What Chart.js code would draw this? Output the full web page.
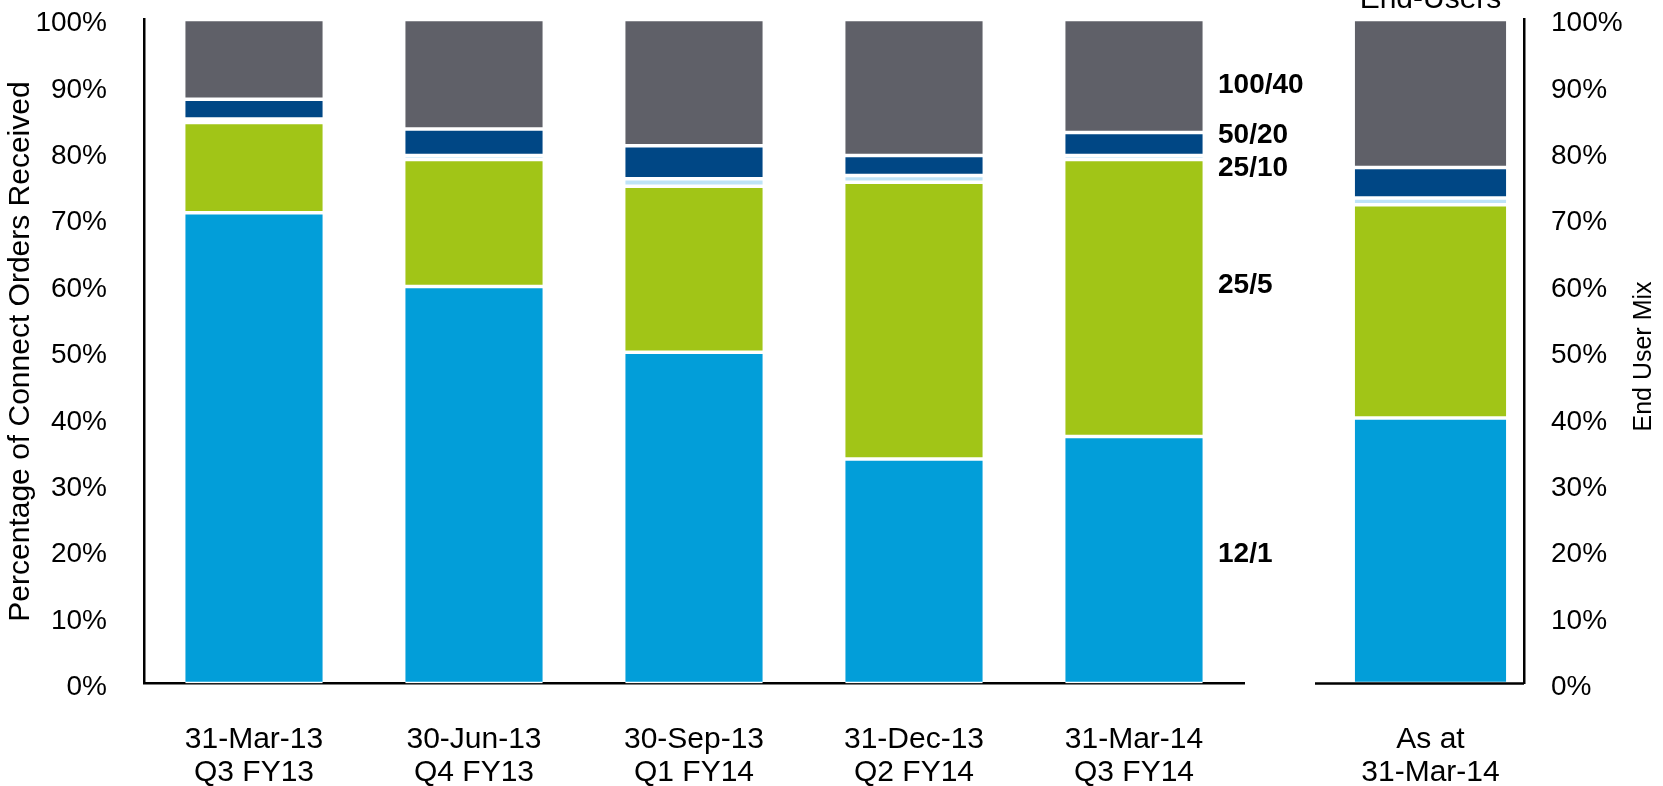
<!DOCTYPE html>
<html>
<head>
<meta charset="utf-8">
<script src="https://cdn.jsdelivr.net/npm/chart.js@4.4.1/dist/chart.umd.min.js"></script>
<style>
  html, body { margin: 0; padding: 0; background: #fff; }
  body { width: 1663px; height: 786px; position: relative; overflow: hidden; }
  #ordersWrap { position: absolute; left: 0; top: 0; width: 1310px; height: 786px; }
  #mixWrap { position: absolute; left: 1300px; top: 0; width: 363px; height: 786px; }
</style>
</head>
<body>
<div id="ordersWrap"><canvas id="ordersChart"></canvas></div>
<div id="mixWrap"><canvas id="mixChart"></canvas></div>
<script>
// ── Data ─────────────────────────────────────────────────────
const periods = [
  ['31-Mar-13', 'Q3 FY13'],
  ['30-Jun-13', 'Q4 FY13'],
  ['30-Sep-13', 'Q1 FY14'],
  ['31-Dec-13', 'Q2 FY14'],
  ['31-Mar-14', 'Q3 FY14'],
];
const orders12_1   = [70.9, 59.8, 49.9, 33.8, 37.2];
const orders25_5   = [13.6, 19.1, 25.0, 41.7, 41.7];
const orders25_10  = [0.5, 0.6, 1.1, 1.0, 0.6];
const orders50_20  = [3.0, 4.0, 5.0, 3.0, 3.5];
const orders100_40 = [12.0, 16.5, 19.0, 20.5, 17.0];

const mixLabels  = [['As at', '31-Mar-14']];
const mix12_1    = [40.0];
const mix25_5    = [32.1];
const mix25_10   = [1.0];
const mix50_20   = [4.6];
const mix100_40  = [22.3];

const tierNames   = ['12/1', '25/5', '25/10', '50/20', '100/40'];
const tierColors  = ['#029ed9', '#a1c517', '#bee3f8', '#004785', '#5f6068'];
const tierLabelAt = [19.5, 59.9, 77.6, 82.6, 90.1];   // y value (%) of each side label

const FONT = '"Liberation Sans", Arial, Helvetica, sans-serif';

function makeDatasets(series) {
  return series.map((data, i) => ({
    label: tierNames[i],
    data,
    backgroundColor: tierColors[i],
    borderColor: '#ffffff',
    borderWidth: { top: 1.75, bottom: 1.75, left: 0, right: 0 },
    borderSkipped: false,
  }));
}

const pctTicks = {
  color: '#000',
  font: { family: FONT, size: 28 },
  stepSize: 10,
  labelOffset: 4,
  callback: v => v + '%',
};

// keep tick label overhang from pushing the plot area down
function fixWidth(w) {
  return s => { s.width = w; s.paddingTop = 0; s.paddingBottom = 0; };
}

// ── Side labels for each tier ─────────────────────────────────
const tierLabelsPlugin = {
  id: 'tierLabels',
  afterDraw(chart) {
    const { ctx, chartArea, scales } = chart;
    ctx.save();
    ctx.fillStyle = '#000';
    ctx.font = 'bold 28px ' + FONT;
    ctx.textAlign = 'left';
    ctx.textBaseline = 'middle';
    tierNames.forEach((name, i) => {
      ctx.fillText(name, chartArea.right - 26, scales.y.getPixelForValue(tierLabelAt[i]));
    });
    ctx.restore();
  },
};

// ── Right panel extras: baseline, header, axis title ──────────
const mixDecorPlugin = {
  id: 'mixDecor',
  afterDraw(chart) {
    const { ctx, chartArea } = chart;
    ctx.save();
    ctx.strokeStyle = '#000';
    ctx.lineWidth = 2.5;
    ctx.beginPath();
    ctx.moveTo(chartArea.left - 22, chartArea.bottom);
    ctx.lineTo(chartArea.right, chartArea.bottom);
    ctx.stroke();

    ctx.fillStyle = '#000';
    ctx.font = '30px ' + FONT;
    ctx.textAlign = 'center';
    ctx.textBaseline = 'alphabetic';
    ctx.fillText('End-Users', (chartArea.left + chartArea.right) / 2, 8);

    ctx.font = '25px ' + FONT;
    ctx.textBaseline = 'middle';
    ctx.translate(chartArea.right + 120, (chartArea.top + chartArea.bottom) / 2 + 5);
    ctx.rotate(-Math.PI / 2);
    ctx.fillText('End User Mix', 0, 0);
    ctx.restore();
  },
};

// ── Connect orders chart ──────────────────────────────────────
new Chart(document.getElementById('ordersChart'), {
  type: 'bar',
  data: {
    labels: periods,
    datasets: makeDatasets([orders12_1, orders25_5, orders25_10, orders50_20, orders100_40]),
  },
  options: {
    responsive: true,
    maintainAspectRatio: false,
    animation: false,
    layout: { padding: { top: 19.5, right: 66, bottom: 0, left: 0 } },
    plugins: { legend: { display: false }, tooltip: { enabled: false } },
    datasets: { bar: { barPercentage: 0.625, categoryPercentage: 1 } },
    scales: {
      x: {
        stacked: true,
        grid: { display: false },
        border: { display: true, color: '#000', width: 2.5 },
        ticks: { color: '#000', font: { family: FONT, size: 30, lineHeight: 1.1 }, padding: 32, maxRotation: 0 },
        afterFit: s => { s.height = 102.5; },
      },
      y: {
        stacked: true,
        min: 0,
        max: 100,
        grid: { display: false },
        border: { display: true, color: '#000', width: 2.5 },
        ticks: { ...pctTicks, padding: 29 },
        title: {
          display: true,
          text: 'Percentage of Connect Orders Received',
          color: '#000',
          font: { family: FONT, size: 30 },
          padding: { top: 3, bottom: 0 },
        },
        afterFit: fixWidth(144),
      },
    },
  },
  plugins: [tierLabelsPlugin],
});

// ── End user mix chart ────────────────────────────────────────
new Chart(document.getElementById('mixChart'), {
  type: 'bar',
  data: {
    labels: mixLabels,
    datasets: makeDatasets([mix12_1, mix25_5, mix25_10, mix50_20, mix100_40]),
  },
  options: {
    responsive: true,
    maintainAspectRatio: false,
    animation: false,
    layout: { padding: { top: 19.5, right: 0, bottom: 0, left: 37 } },
    plugins: { legend: { display: false }, tooltip: { enabled: false } },
    datasets: { bar: { barPercentage: 0.81, categoryPercentage: 1 } },
    scales: {
      x: {
        stacked: true,
        grid: { display: false },
        border: { display: false },
        ticks: { color: '#000', font: { family: FONT, size: 30, lineHeight: 1.1 }, padding: 32, maxRotation: 0 },
        afterFit: s => { s.height = 102.5; },
      },
      y: {
        stacked: true,
        position: 'right',
        min: 0,
        max: 100,
        grid: { display: false },
        border: { display: true, color: '#000', width: 2.5 },
        ticks: { ...pctTicks, padding: 19 },
        afterFit: fixWidth(139),
      },
    },
  },
  plugins: [mixDecorPlugin],
});
</script>
</body>
</html>
